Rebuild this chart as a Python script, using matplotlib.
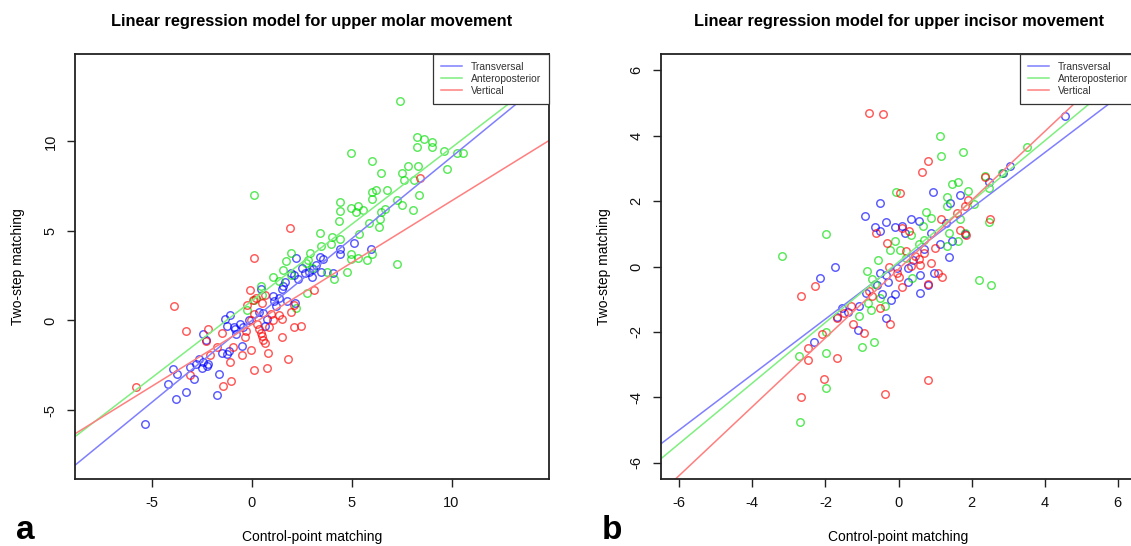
import matplotlib.pyplot as plt

plt.rcParams['font.family'] = ['Liberation Sans', 'DejaVu Sans']
plt.rcParams['axes.unicode_minus'] = False

series_names = ["Transversal", "Anteroposterior", "Vertical"]
point_colors = ["#0000ff", "#00dd00", "#ff0000"]
line_colors = ["#7f7fff", "#7fef7f", "#ff7f7f"]

# ---- panel a: upper molar movement ----
molar_trans_x = [-5.36, -4.18, -3.96, -3.73, -3.78, -3.29, -3.11, -2.87, -2.78, -2.64, -2.51, -2.42,
                 -2.24, -2.2, -2.45, -2.29, -1.73, -1.64, -1.47, -1.24, -1.15, -1.36, -1.09, -1.24,
                 -0.91, -0.78, -0.82, -0.6, -0.47, -0.42, -0.15, 0.35, 0.45, 0.58, 0.76, 0.64,
                 1.04, 1.13, 1.22, 1.35, 1.49, 1.58, 1.67, 1.76, 1.95, 2.13, 2.22, 2.31, 2.49,
                 2.67, 2.85, 3.0, 3.09, 3.22, 3.4, 3.58, 3.49, 4.09, 4.4, 4.44, 5.13, 5.98, 2.16]
molar_trans_y = [-5.8, -3.56, -2.72, -2.96, -4.38, -3.99, -2.57, -3.25, -2.43, -2.14, -2.68, -2.33,
                 -2.53, -2.43, -0.78, -1.07, -4.14, -2.98, -1.79, -1.85, -1.71, 0.1, 0.29, -0.29,
                 -0.39, -0.78, -0.49, -0.19, -1.4, -0.39, 0.0, 0.49, 1.75, 0.43, 0.1, -0.29,
                 1.36, 1.07, 0.82, 1.26, 1.75, 1.91, 2.14, 1.07, 2.63, 2.53, 3.5, 2.33, 2.92,
                 2.63, 2.68, 2.43, 2.88, 3.11, 3.56, 3.46, 2.68, 2.63, 3.99, 3.74, 4.34, 3.99, 0.97]

molar_ap_x = [7.4, 8.27, 8.62, 9.0, 9.04, 8.27, 9.62, 10.27, 10.58, 4.95, 6.04, 9.76, 6.49, 7.53,
              7.82, 8.31, 7.62, 8.13, 8.36, 6.76, 6.22, 6.04, 6.04, 7.29, 7.51, 8.09, 4.4, 4.95,
              5.31, 5.22, 5.58, 4.4, 6.67, 6.49, 6.4, 6.36, 5.85, 4.35, 4.44, 3.95, 3.4, 3.49,
              4.04, 5.36, 4.95, 4.95, 5.31, 5.76, 6.04, 7.29, 4.77, 4.13, 3.76, 2.91, 2.82, 2.73,
              3.04, 1.95, 1.71, 1.58, 1.95, 1.07, 1.36, 0.45, 0.09, 2.76, 2.22, 0.49, 0.13, -0.24]
molar_ap_y = [12.26, 10.27, 10.16, 9.98, 9.69, 9.69, 9.49, 9.34, 9.34, 9.34, 8.89, 8.44, 8.21, 8.23,
              8.6, 8.64, 7.82, 7.82, 7.0, 7.3, 7.3, 7.16, 6.81, 6.71, 6.46, 6.17, 6.61, 6.26,
              6.38, 6.07, 6.17, 6.13, 6.23, 6.07, 5.64, 5.21, 5.45, 5.54, 4.57, 4.28, 4.86, 4.18,
              4.67, 4.82, 3.7, 3.46, 3.5, 3.4, 3.74, 3.15, 2.72, 2.33, 2.72, 3.79, 3.4, 3.2,
              2.92, 3.79, 3.3, 2.82, 2.53, 2.43, 2.18, 1.95, 7.0, 1.56, 0.68, 1.4, 1.17, 0.58]

molar_vert_x = [-5.78, -3.87, -3.27, -3.11, -2.2, -2.29, -2.09, -1.73, -1.51, -1.45, -1.05, -1.11,
                -0.96, -0.51, -0.33, -0.31, -0.24, -0.09, -0.02, 0.13, 0.13, 0.04, 0.22, 0.27,
                0.35, 0.45, 0.49, 0.58, 0.67, 0.76, 0.82, 0.85, 1.04, 0.95, 1.36, 1.49, 1.49,
                1.82, 1.89, 1.95, 2.13, 2.09, 2.45, 3.13, 8.4, 0.49, 0.67, -0.05, 0.13]
molar_vert_y = [-3.7, 0.82, -0.58, -3.02, -0.49, -1.17, -1.95, -1.46, -0.68, -3.66, -3.4, -2.33,
                -1.46, -1.95, -0.93, -0.58, 0.88, 1.71, -1.65, -2.76, 3.5, 1.17, 1.26, -0.19,
                -0.49, -0.68, -0.88, -1.07, -1.26, -2.63, -1.79, -0.39, 0.0, 0.39, 0.29, 0.1, -0.93,
                -2.14, 5.16, 0.49, 0.88, -0.39, -0.29, 1.69, 7.98, 0.97, 1.4, 0.0, 0.39]

# fitted lines (intercept, slope)
molar_intercepts = [0.0, 1.09, -0.22]
molar_slopes = [0.913, 0.856, 0.69]

# ---- panel b: upper incisor movement ----
incisor_trans_x = [4.57, 3.05, 2.85, 2.47, 1.67, 0.94, 1.41, 0.33, 0.55, 0.1, -0.1, 0.18, -0.35,
                   -0.5, -0.91, -0.65, -0.52, 1.81, 1.47, 1.39, 0.89, 1.14, 0.7, 0.4, 0.6, 0.58,
                   0.97, 0.82, 0.25, -0.1, -0.2, -0.35, -0.45, -0.3, -0.5, -0.35, -0.05, -1.74,
                   -2.14, -2.31, -1.11, -1.09, -1.54, -1.69, -1.39, -0.89, -0.6, 0.25, 1.29]
incisor_trans_y = [4.59, 3.06, 2.87, 2.6, 2.18, 2.28, 1.94, 1.46, 1.4, 1.24, 1.22, 1.03, 1.36,
                   1.93, 1.54, 1.22, 1.08, 0.99, 0.77, 0.29, 1.03, 0.69, 0.53, 0.21, -0.27, -0.82,
                   -0.19, -0.56, -0.48, -0.85, -1.01, -1.59, -0.85, -0.46, -0.21, -0.27, -0.05, -0.03,
                   -0.35, -2.3, -1.94, -1.2, -1.27, -1.54, -1.38, -0.8, -0.58, -0.05, 1.33]

incisor_ap_x = [-3.2, -1.99, 1.14, 1.16, 1.77, 3.51, 2.37, 1.64, 1.47, 1.91, 2.47, 2.83, -0.07,
                1.32, 1.34, 2.06, 0.75, 0.89, 1.67, 0.68, 1.37, 1.64, 1.81, 1.34, 2.49, -0.1,
                -0.22, 0.05, 0.35, 0.38, -0.55, -0.86, -0.72, -0.65, -0.52, -0.75, -0.37, -1.09,
                -0.84, -0.68, -0.99, -1.99, -1.99, -1.99, -2.73, -2.7, 2.19, 2.53, 0.2, 0.55, 0.7]
incisor_ap_y = [0.32, 0.99, 3.98, 3.37, 3.5, 3.66, 2.76, 2.6, 2.53, 2.3, 2.39, 2.87, 2.28,
                2.12, 1.86, 1.91, 1.67, 1.49, 1.45, 1.24, 1.01, 0.77, 1.03, 0.64, 1.35, 0.77,
                0.5, 0.5, 0.96, -0.35, 0.21, -0.14, -0.37, -0.53, -0.96, -1.33, -1.22, -1.52,
                -1.11, -2.31, -2.46, -2.0, -2.65, -3.72, -2.74, -4.76, -0.42, -0.56, 0.27, 0.69, 0.8]

incisor_vert_x = [-0.8, -0.42, 0.82, 0.65, 0.05, 1.17, 2.5, 1.89, 1.81, 1.59, 1.84, 1.0, 0.89,
                  1.09, 0.82, 0.58, 0.35, 0.28, 0.1, -0.32, -0.62, -0.25, 0.0, -0.05, -0.5, -0.22,
                  0.1, -0.72, -0.94, -1.24, -1.67, -2.04, -2.09, -2.49, -2.49, -2.29, -2.68, -2.68,
                  -0.37, 0.82, 2.37, 1.19, -1.49, -1.69, -1.29, -0.8, 0.45, 0.2, 0.55, 0.7, 1.69]
incisor_vert_y = [4.7, 4.65, 3.24, 2.9, 2.25, 1.45, 1.45, 2.02, 1.86, 1.65, 0.96, 0.58, 0.11,
                  -0.21, -0.53, 0.05, 0.03, 1.09, 1.17, 0.71, 1.01, 0.0, -0.32, -0.21, -1.27, -1.75,
                  -0.64, -0.9, -2.02, -1.75, -2.81, -3.43, -2.07, -2.49, -2.87, -0.61, -0.9, -3.98,
                  -3.91, -3.48, 2.73, -0.32, -1.43, -1.59, -1.22, -0.74, 0.32, 0.48, 0.24, 0.42, 1.11]

incisor_intercepts = [0.09, 0.14, -0.08]
incisor_slopes = [0.848, 0.926, 1.052]

panels = [
    dict(title="Linear regression model for upper molar movement", letter="a",
         xs=[molar_trans_x, molar_ap_x, molar_vert_x], ys=[molar_trans_y, molar_ap_y, molar_vert_y],
         b=molar_intercepts, m=molar_slopes, lim=(-8.85, 14.88), ticks=[-5, 0, 5, 10],
         rect=[75 / 1131, 67 / 546, 474 / 1131, 425 / 546]),
    dict(title="Linear regression model for upper incisor movement", letter="b",
         xs=[incisor_trans_x, incisor_ap_x, incisor_vert_x], ys=[incisor_trans_y, incisor_ap_y, incisor_vert_y],
         b=incisor_intercepts, m=incisor_slopes, lim=(-6.5, 6.5), ticks=[-6, -4, -2, 0, 2, 4, 6],
         rect=[661 / 1131, 67 / 546, 475 / 1131, 425 / 546]),
]

fig = plt.figure(figsize=(11.31, 5.46), dpi=100)

for p in panels:
    ax = fig.add_axes(p["rect"])
    for i in range(3):
        ax.plot(p["xs"][i], p["ys"][i], linestyle="none", marker="o", markersize=5.4,
                markerfacecolor="none", markeredgecolor=point_colors[i], markeredgewidth=1.05, alpha=0.65)
    for i in range(3):
        ax.axline((0, p["b"][i]), slope=p["m"][i], color=line_colors[i], lw=1.1, label=series_names[i])
    ax.set_xlim(p["lim"])
    ax.set_ylim(p["lim"])
    ax.set_xticks(p["ticks"])
    ax.set_yticks(p["ticks"])
    ax.tick_params(length=6, width=1.0, labelsize=10.5, pad=6.5, color="#222222", labelcolor="#111111")
    for lab in ax.get_yticklabels():
        lab.set_rotation(90)
        lab.set_va("center")
    for s in ax.spines.values():
        s.set_linewidth(1.3)
        s.set_color("#222222")
    leg = ax.legend(loc="upper right", bbox_to_anchor=(1, 1), borderaxespad=0, fontsize=7.4,
                    frameon=True, fancybox=False, framealpha=1, edgecolor="#333333",
                    handlelength=2.1, handletextpad=0.85, labelspacing=0.2, borderpad=0.75)
    leg.get_frame().set_linewidth(0.9)
    for t in leg.get_texts():
        t.set_color("#333333")

    r = p["rect"]
    cx = r[0] + r[2] / 2
    fig.text(cx, 1 - 21.6 / 546, p["title"], ha="center", va="center", fontsize=11.8, fontweight="bold")
    fig.text(cx, 9 / 546, "Control-point matching", ha="center", va="center", fontsize=10)
    fig.text(r[0] - 57 / 1131, r[1] + r[3] / 2, "Two-step matching", ha="center", va="center",
             rotation=90, fontsize=10)
    fig.text(r[0] - 59 / 1131, 7 / 546, p["letter"], ha="left", va="baseline", fontsize=24,
             fontweight="bold")

fig.savefig("out.png", dpi=100)
